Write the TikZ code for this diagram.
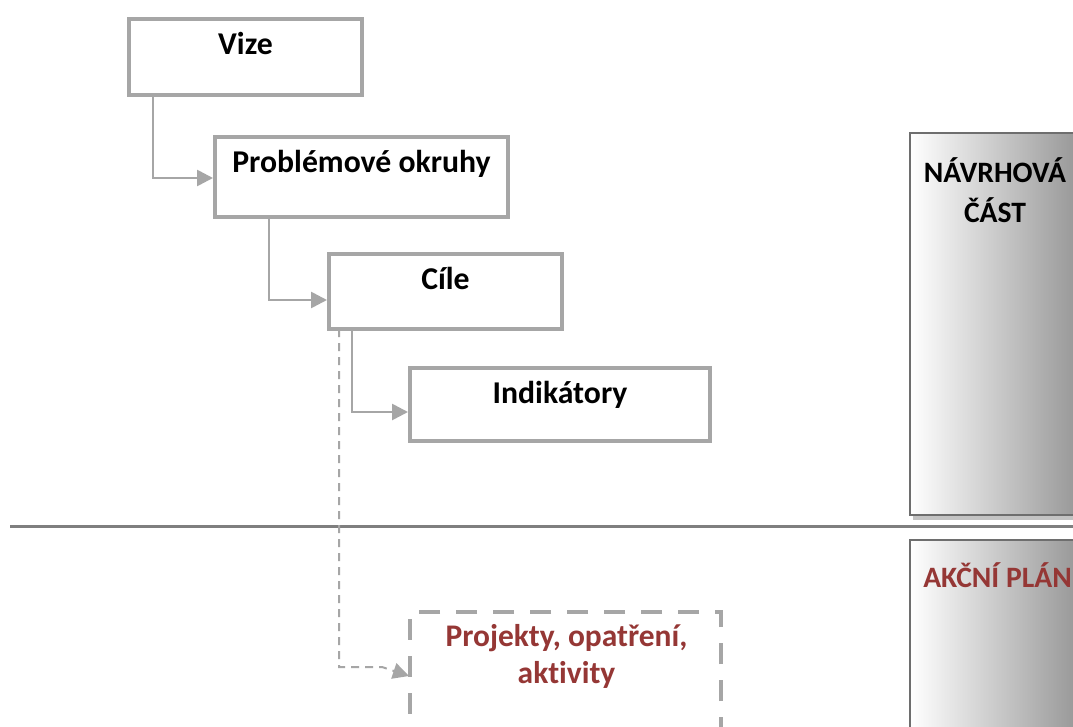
\documentclass[tikz,border=0pt]{standalone}
\usepackage{fontspec}
\setmainfont{Carlito}[Ligatures=NoCommon]
\usetikzlibrary{arrows.meta,calc}
\definecolor{boxgray}{HTML}{A6A6A6}
\definecolor{sepgray}{HTML}{7F7F7F}
\definecolor{rbord}{HTML}{6E6E6E}
\definecolor{shadowgray}{HTML}{C3C3C3}
\definecolor{darkred}{HTML}{953735}
\definecolor{gradgray}{HTML}{8A8A8A}
\tikzset{
  box/.style={draw=boxgray, line width=3pt, fill=white, inner xsep=0pt, inner ysep=0pt,
    outer sep=0pt, text height=26.5pt, font=\fontsize{23.8}{28}\selectfont\bfseries},
  dashbox/.style={draw=boxgray, line width=3pt, fill=white, outer sep=0pt, inner sep=0pt,
    dash pattern=on 15.75pt off 12pt},
  conn/.style={draw=boxgray, line width=2pt, -{Triangle[length=12pt,width=12pt]}, shorten >=1.5pt},
  dconn/.style={draw=boxgray, line width=1.5pt, dash pattern=on 6pt off 4.5pt,
    -{Triangle[length=12pt,width=12pt]}},
  rbox/.style={draw=rbord, line width=1.5pt, left color=white, right color=gradgray,
    outer sep=0pt, inner sep=0pt},
  rtext/.style={font=\fontsize{22.2}{30}\selectfont\bfseries, align=center, anchor=base},
  ptext/.style={font=\fontsize{23.6}{27.75}\selectfont\bfseries, align=center, anchor=base, text=darkred}
}
\begin{document}
\begin{tikzpicture}[x=0.75pt,y=-0.75pt]
\useasboundingbox (0,0) rectangle (1073,727);
\clip (0,0) rectangle (1073,727);
\fill[white] (0,0) rectangle (1073,727);

% separator
\draw[sepgray, line width=2.25pt] (10,526.5) -- (1080,526.5);

% right side blocks
\fill[shadowgray] (913,136) rectangle (1110,520);
\node[rbox, minimum width=142.5pt, minimum height=286.5pt] (navrh) at (1005,324) {};
\node[rtext] (navrhtxt) at (995,223) {NÁVRHOVÁ\\ČÁST};
\node[rbox, minimum width=142.5pt, minimum height=195pt] (akcni) at (1005,670) {};
\node[rtext, text=darkred] (akcnitxt) at (997.5,587) {AKČNÍ PLÁN};

% main boxes
\node[box, minimum width=174.75pt, text depth=30.5pt] (vize) at (245.5,57) {Vize};
\node[box, minimum width=219.75pt, text depth=33.5pt] (prob) at (361.5,177) {Problémové okruhy};
\node[box, minimum width=174.75pt, text depth=29.75pt] (cile) at (445.5,291.5) {Cíle};
\node[box, minimum width=225pt, text depth=28.25pt] (indik) at (560,404.5) {Indikátory};

\node[dashbox, minimum width=233.25pt, minimum height=111pt] (proj) at (565.5,686) {};
\node[ptext] (projtxt) at (566.5,683) {Projekty, opatření,\\aktivity};

% connectors
\draw[conn] ($(vize.south west)+(24,0)$) |- ($(prob.west)+(0,1)$);
\draw[conn] ($(prob.south west)+(54,0)$) |- ($(cile.west)+(0,8.5)$);
\draw[conn] ($(cile.south west)+(23,0)$) |- ($(indik.west)+(0,7.5)$);
\draw[dconn] ($(cile.south west)+(10,0)$) |- ($(proj.west)+(-28,-19)$) -- ($(proj.west)+(-1,-10)$);
\end{tikzpicture}
\end{document}
